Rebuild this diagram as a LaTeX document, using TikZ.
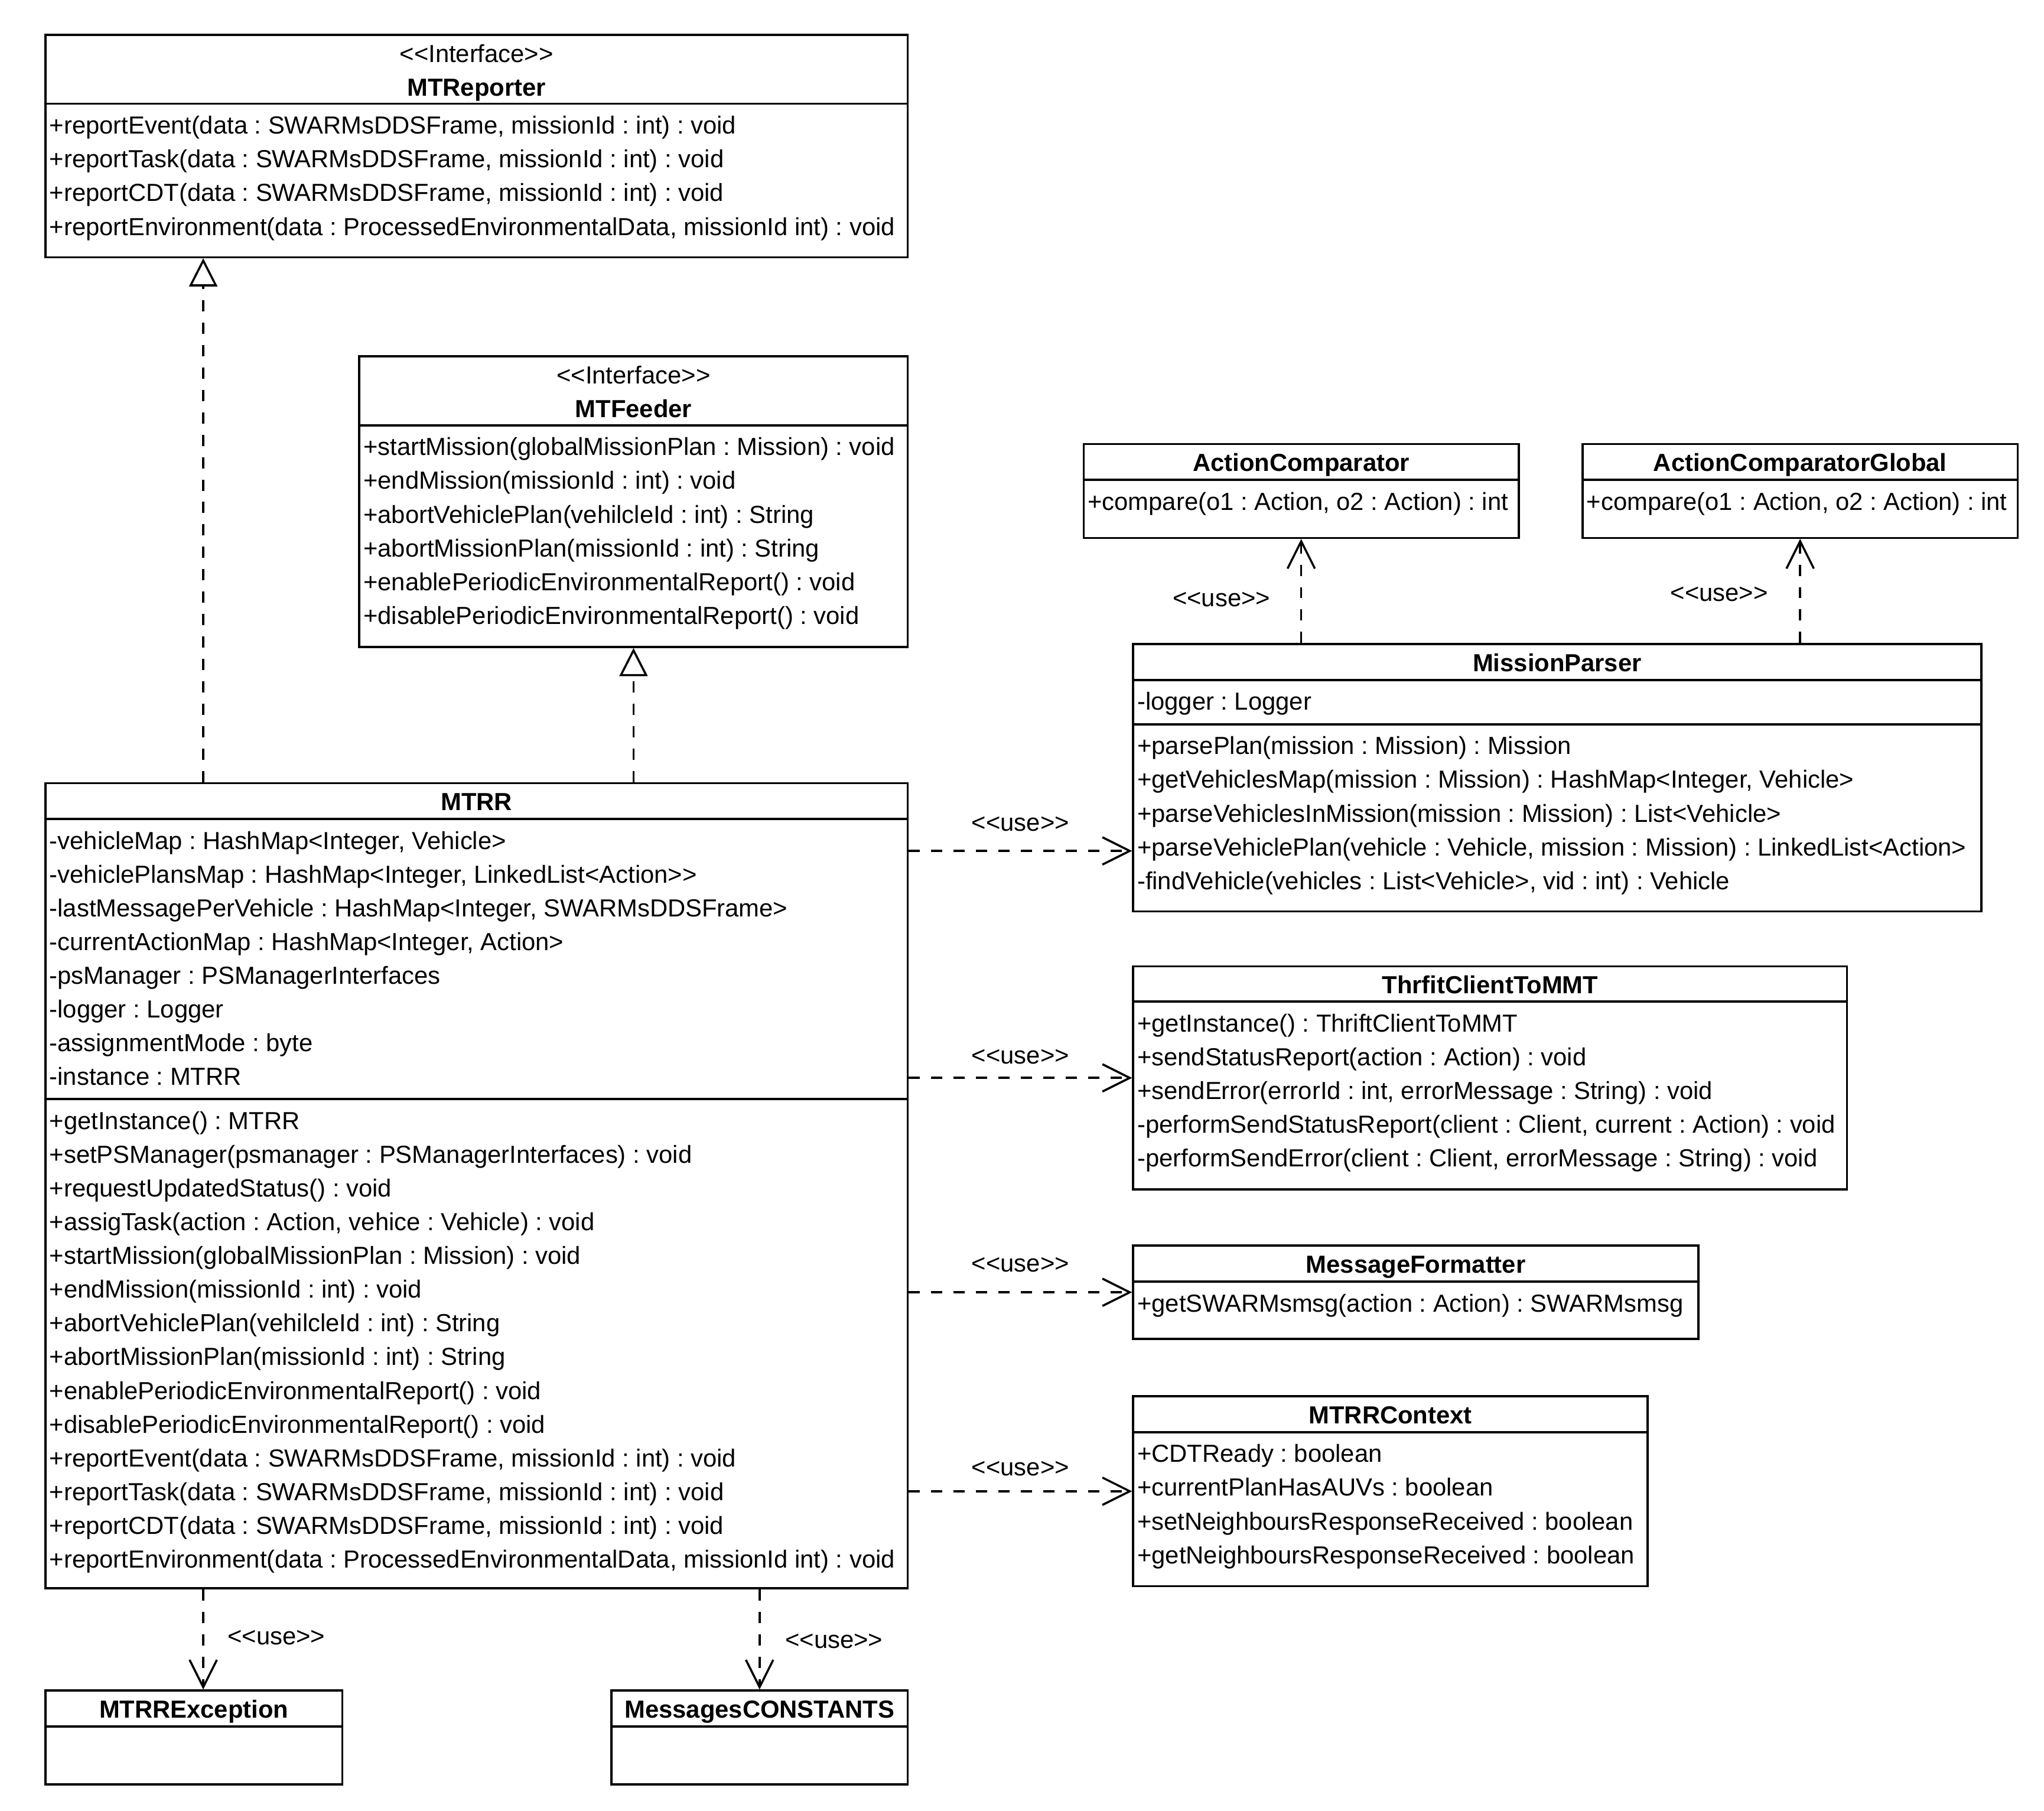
\documentclass[tikz,border=0pt]{standalone}
\usepackage{fontspec}
\newfontfamily\umlfont{Liberation Sans}
\usetikzlibrary{shapes.multipart,arrows.meta,positioning}

\newlength\ul
\setlength\ul{0.5pt}
\newlength\vl
\setlength\vl{0.4985pt}
\newcommand{\stereo}[1]{<\kern0pt<#1>\kern0pt>}
% header compartment: width, height, text
\newcommand{\chead}[3]{\parbox[c][#2\vl][t]{#1\ul}{\vspace*{1.0pt}\centering\strut #3}}
% member compartment: width, height, lines
\newcommand{\cpart}[3]{\parbox[c][#2\vl][t]{#1\ul}{\vspace*{2.1pt}\raggedright\leftskip=1.6pt\strut #3}}

\begin{document}
\frenchspacing
\begin{tikzpicture}[
    x=0.5pt, y=-0.4985pt,
    font={\umlfont\fontsize{9.47}{12.95}\selectfont},
    umlclass/.style={rectangle split, rectangle split parts=#1, draw,
      line width=0.8pt, inner sep=0pt, anchor=north west},
    realize/.style={line width=0.8pt, dash pattern=on 4.3pt off 4.3pt,
      -{Triangle[open, length=10.8pt, width=10.8pt]}},
    dep/.style={line width=0.8pt, dash pattern=on 4.3pt off 4.3pt,
      -{Straight Barb[length=10.5pt, width=10.5pt]}},
    usetext/.style={inner sep=0pt}
  ]
  \useasboundingbox (0,0) rectangle (1569,1394);

  % Interfaces
  \node[umlclass=2] (reporter) at (34,26) {%
    \chead{662}{51.5}{\stereo{Interface}\\\textbf{MTReporter}}%
    \nodepart{second}\cpart{662}{116.5}{%
      +reportEvent(data : SWARMsDDSFrame, missionId : int) : void\\
      +reportTask(data : SWARMsDDSFrame, missionId : int) : void\\
      +reportCDT(data : SWARMsDDSFrame, missionId : int) : void\\
      +reportEnvironment(data : ProcessedEnvironmentalData, missionId int) : void}};

  \node[umlclass=2] (feeder) at (275,273.5) {%
    \chead{421}{51.5}{\stereo{Interface}\\\textbf{MTFeeder}}%
    \nodepart{second}\cpart{421}{169}{%
      +startMission(globalMissionPlan : Mission) : void\\
      +endMission(missionId : int) : void\\
      +abortVehiclePlan(vehilcleId : int) : String\\
      +abortMissionPlan(missionId : int) : String\\
      +enablePeriodicEnvironmentalReport() : void\\
      +disablePeriodicEnvironmentalReport() : void}};

  % Comparators
  \node[umlclass=2] (comp) at (831,341) {%
    \chead{334}{26}{\textbf{ActionComparator}}%
    \nodepart{second}\cpart{334}{43}{+compare(o1 : Action, o2 : Action) : int}};

  \node[umlclass=2] (compglobal) at (1214,341) {%
    \chead{334}{26}{\textbf{ActionComparatorGlobal}}%
    \nodepart{second}\cpart{334}{43}{+compare(o1 : Action, o2 : Action) : int}};

  \node[umlclass=3] (parser) at (869,495) {%
    \chead{651}{26}{\textbf{MissionParser}}%
    \nodepart{second}\cpart{651}{32.5}{-logger : Logger}%
    \nodepart{third}\cpart{651}{142.5}{%
      +parsePlan(mission : Mission) : Mission\\
      +getVehiclesMap(mission : Mission) : HashMap<Integer, Vehicle>\\
      +parseVehiclesInMission(mission : Mission) : List<Vehicle>\\
      +parseVehiclePlan(vehicle : Vehicle, mission : Mission) : LinkedList<Action>\\
      -findVehicle(vehicles : List<Vehicle>, vid : int) : Vehicle}};

  % Main class
  \node[umlclass=3] (mtrr) at (34,602) {%
    \chead{662}{26}{\textbf{MTRR}}%
    \nodepart{second}\cpart{662}{214}{%
      -vehicleMap : HashMap<Integer, Vehicle>\\
      -vehiclePlansMap : HashMap<Integer, LinkedList<Action>\kern0pt>\\
      -lastMessagePerVehicle : HashMap<Integer, SWARMsDDSFrame>\\
      -currentActionMap : HashMap<Integer, Action>\\
      -psManager : PSManagerInterfaces\\
      -logger : Logger\\
      -assignmentMode : byte\\
      -instance : MTRR}%
    \nodepart{third}\cpart{662}{375}{%
      +getInstance() : MTRR\\
      +setPSManager(psmanager : PSManagerInterfaces) : void\\
      +requestUpdatedStatus() : void\\
      +assigTask(action : Action, vehice : Vehicle) : void\\
      +startMission(globalMissionPlan : Mission) : void\\
      +endMission(missionId : int) : void\\
      +abortVehiclePlan(vehilcleId : int) : String\\
      +abortMissionPlan(missionId : int) : String\\
      +enablePeriodicEnvironmentalReport() : void\\
      +disablePeriodicEnvironmentalReport() : void\\
      +reportEvent(data : SWARMsDDSFrame, missionId : int) : void\\
      +reportTask(data : SWARMsDDSFrame, missionId : int) : void\\
      +reportCDT(data : SWARMsDDSFrame, missionId : int) : void\\
      +reportEnvironment(data : ProcessedEnvironmentalData, missionId int) : void}};

  % Helpers on the right
  \node[umlclass=2] (thrift) at (869,743) {%
    \chead{548}{25.6}{\textbf{ThrfitClientToMMT}}%
    \nodepart{second}\cpart{548}{143}{%
      +getInstance() : ThriftClientToMMT\\
      +sendStatusReport(action : Action) : void\\
      +sendError(errorId : int, errorMessage : String) : void\\
      -performSendStatusReport(client : Client, current : Action) : void\\
      -performSendError(client : Client, errorMessage : String) : void}};

  \node[umlclass=2] (formatter) at (869,958) {%
    \chead{434}{26.2}{\textbf{MessageFormatter}}%
    \nodepart{second}\cpart{434}{42.5}{+getSWARMsmsg(action : Action) : SWARMsmsg}};

  \node[umlclass=2] (context) at (869,1074) {%
    \chead{395}{26}{\textbf{MTRRContext}}%
    \nodepart{second}\cpart{395}{117}{%
      +CDTReady : boolean\\
      +currentPlanHasAUVs : boolean\\
      +setNeighboursResponseReceived : boolean\\
      +getNeighboursResponseReceived : boolean}};

  % Bottom classes
  \node[umlclass=2] (exception) at (34,1300.5) {%
    \chead{228}{26}{\textbf{MTRRException}}%
    \nodepart{second}\cpart{228}{43}{}};

  \node[umlclass=2] (constants) at (468.5,1300.5) {%
    \chead{227.5}{26}{\textbf{MessagesCONSTANTS}}%
    \nodepart{second}\cpart{227.5}{43}{}};

  % Realizations
  \coordinate (leftline) at ([xshift=122\ul]mtrr.north west);
  \draw[realize] (leftline) -- (leftline |- reporter.south);
  \draw[realize] (mtrr.north -| feeder.south) -- (feeder.south);

  % Dependencies
  \draw[dep] (parser.north -| comp.south) -- node[usetext, left=11.5pt, pos=0.42] {\stereo{use}} (comp.south);
  \draw[dep] (parser.north -| compglobal.south) -- node[usetext, left=12pt, pos=0.47] {\stereo{use}} (compglobal.south);
  \draw[dep] ([yshift=-53\vl]mtrr.north east) -- node[usetext, above=7.2pt] {\stereo{use}} ([yshift=-160\vl]parser.north west);
  \draw[dep] (mtrr.east |- thrift.west) -- node[usetext, above=5pt] {\stereo{use}} (thrift.west);
  \draw[dep] (mtrr.east |- formatter.west) -- node[usetext, above=7.3pt] {\stereo{use}} (formatter.west);
  \draw[dep] (mtrr.east |- context.west) -- node[usetext, above=5.5pt] {\stereo{use}} (context.west);
  \coordinate (lowline) at ([xshift=122\ul]mtrr.south west);
  \draw[dep] (lowline) -- node[usetext, right=9pt, pos=0.48] {\stereo{use}} (lowline |- exception.north);
  \draw[dep] (mtrr.south -| constants.north) -- node[usetext, right=9.5pt, pos=0.52] {\stereo{use}} (constants.north);
\end{tikzpicture}
\end{document}
